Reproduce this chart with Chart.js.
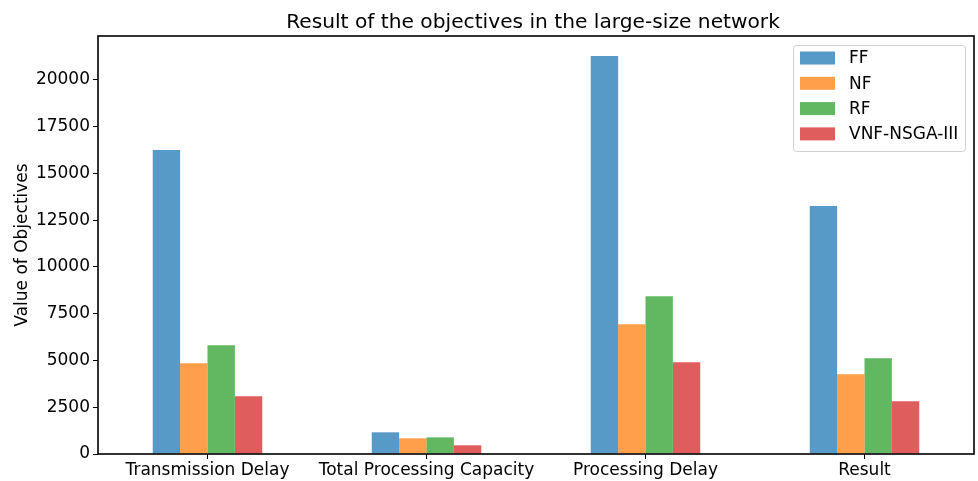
<!DOCTYPE html>
<html>
<head>
<meta charset="utf-8">
<script src="https://cdn.jsdelivr.net/npm/chart.js@4"></script>
<style>
  html, body { margin: 0; padding: 0; background: #fff; }
  #wrap { width: 978px; height: 481px; }
</style>
</head>
<body>
<div id="wrap"><canvas id="objChart" width="978" height="481"></canvas></div>
<script>
// **Data**
const categories = ["Transmission Delay", "Total Processing Capacity", "Processing Delay", "Result"];
const ffValues = [16250, 1160, 21280, 13260];
const nfValues = [4850, 840, 6940, 4270];
const rfValues = [5820, 890, 8440, 5120];
const vnfValues = [3090, 465, 4910, 2820];
const seriesNames = ["FF", "NF", "RF", "VNF-NSGA-III"];
const seriesColors = ["rgba(31,119,180,0.75)", "rgba(255,127,14,0.75)", "rgba(44,160,44,0.75)", "rgba(214,39,40,0.75)"];
const yTicks = [0, 2500, 5000, 7500, 10000, 12500, 15000, 17500, 20000];
const chartTitle = "Result of the objectives in the large-size network";

const FONT = "'DejaVu Sans', sans-serif";

// **Frame, title + inside legend (matplotlib style)**
const framePlugin = {
    id: "frame",
    afterDraw(chart) {
        const ctx = chart.ctx;
        const a = chart.chartArea;
        ctx.save();
        ctx.strokeStyle = "#000";
        ctx.lineWidth = 1.6;
        ctx.strokeRect(a.left, a.top, a.right - a.left, a.bottom - a.top);

        // title centred over the plot area
        ctx.fillStyle = "#000";
        ctx.font = "20.2px " + FONT;
        ctx.textAlign = "center";
        ctx.textBaseline = "alphabetic";
        ctx.fillText(chartTitle, (a.left + a.right) / 2 - 3, a.top - 8);

        // legend box
        const bx = a.right - 181, by = a.top + 9, bw = 172, bh = 106;
        ctx.fillStyle = "rgba(255,255,255,0.8)";
        ctx.strokeStyle = "#d0d0d0";
        ctx.lineWidth = 1;
        ctx.beginPath();
        ctx.roundRect(bx + 0.5, by + 0.5, bw, bh, 3);
        ctx.fill();
        ctx.stroke();

        ctx.font = "17px " + FONT;
        ctx.textAlign = "left";
        ctx.textBaseline = "middle";
        chart.data.datasets.forEach((ds, i) => {
            const cy = by + 13 + i * 25.3;
            ctx.fillStyle = ds.backgroundColor;
            ctx.fillRect(bx + 7, cy - 6.5, 35, 13);
            ctx.fillStyle = "#000";
            ctx.fillText(ds.label, bx + 56, cy + 1);
        });
        ctx.restore();
    }
};

const datasetList = [ffValues, nfValues, rfValues, vnfValues].map((vals, i) => ({
    label: seriesNames[i],
    data: vals,
    backgroundColor: seriesColors[i],
    borderWidth: 0,
    barPercentage: 1.0,
    categoryPercentage: 0.5
}));

new Chart(document.getElementById("objChart").getContext("2d"), {
    type: "bar",
    data: { labels: categories, datasets: datasetList },
    plugins: [framePlugin],
    options: {
        responsive: false,
        animation: false,
        layout: { padding: { left: 0, right: 4, top: 36, bottom: 0 } },
        plugins: {
            legend: { display: false },
            tooltip: { enabled: false },
            title: { display: false }
        },
        scales: {
            x: {
                offset: true,
                grid: { display: true, drawOnChartArea: false, drawTicks: true, tickLength: 5, color: "#000", offset: false },
                border: { display: false },
                ticks: { color: "#000", font: { family: FONT, size: 17 }, padding: 1, maxRotation: 0, autoSkip: false },
                afterFit(scale) { scale.height = 27; }
            },
            y: {
                min: 0,
                max: 22350,
                grid: { display: true, drawOnChartArea: false, drawTicks: true, tickLength: 5, color: "#000" },
                border: { display: false },
                ticks: {
                    color: "#000",
                    font: { family: FONT, size: 17 },
                    padding: 3,
                    callback: (v) => String(v)
                },
                afterBuildTicks(scale) { scale.ticks = yTicks.map(v => ({ value: v })); },
                title: { display: true, text: "Value of Objectives", color: "#000", font: { family: FONT, size: 17 }, padding: { top: 12, bottom: 2 } },
                afterFit(scale) { scale.width = 98; }
            }
        }
    }
});
</script>
</body>
</html>
